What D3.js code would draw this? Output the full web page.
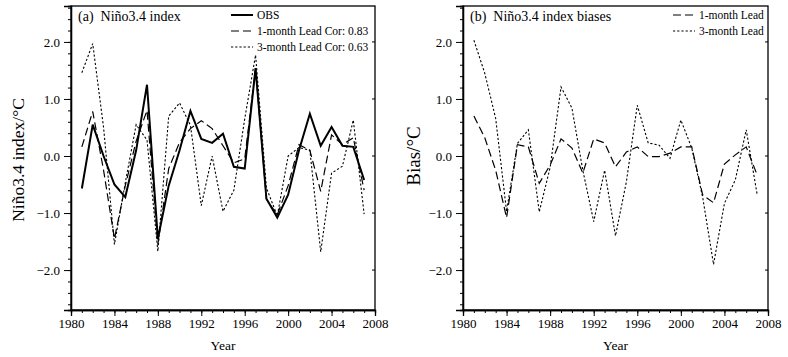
<!DOCTYPE html>
<html><head><meta charset="utf-8">
<script src="https://cdn.jsdelivr.net/npm/d3@7/dist/d3.min.js"></script>
<style>body{margin:0;background:#fff}svg{display:block}svg text{font-family:"Liberation Serif","Times New Roman",serif !important;fill:#000}</style>
</head><body>
<svg id="c" width="788" height="357"></svg>
<script>
const years = d3.range(1981, 2008);
const obs  = [-0.57,0.55,0.0,-0.5,-0.72,0.1,1.25,-1.45,-0.52,0.1,0.79,0.3,0.23,0.39,-0.19,-0.22,1.54,-0.75,-1.08,-0.68,0.1,0.74,0.18,0.51,0.18,0.16,-0.42];
const lead1 = [0.16,0.78,-0.25,-1.45,-0.52,0.26,0.8,-1.55,-0.22,0.24,0.48,0.62,0.48,0.18,-0.12,-0.05,1.53,-0.76,-1.03,-0.52,0.2,0.1,-0.62,0.37,0.2,0.32,-0.6];
const lead3 = [1.46,1.97,0.5,-1.55,-0.47,0.55,0.28,-1.67,0.7,0.93,0.54,-0.87,0.0,-0.97,-0.6,0.65,1.77,-0.56,-1.05,0.0,0.15,0.1,-1.68,-0.3,-0.18,0.63,-1.02];
const bias1 = [0.7,0.32,-0.25,-1.08,0.2,0.16,-0.48,-0.16,0.3,0.14,-0.3,0.3,0.23,-0.19,0.07,0.16,-0.01,-0.01,0.05,0.16,0.16,-0.68,-0.82,-0.14,0.02,0.16,-0.33];
const bias3 = [2.03,1.45,0.66,-0.97,0.22,0.46,-0.98,-0.2,1.21,0.84,-0.25,-1.15,-0.25,-1.4,-0.45,0.89,0.23,0.19,-0.04,0.63,0.14,-0.72,-1.9,-0.83,-0.42,0.46,-0.67];
const xMajor = [1980,1984,1988,1992,1996,2000,2004,2008];
const yMajor = [-2,-1,0,1,2];
const yTickLabels = ["\u22122.0","\u22121.0","0.0","1.0","2.0"];
const legendA = ["OBS","1-month Lead Cor: 0.83","3-month Lead Cor: 0.63"];
const legendB = ["1-month Lead","3-month Lead"];

const FONT = "'Liberation Serif','Times New Roman',serif";
const svg = d3.select("#c");
const styles = {
  obs:{w:2,dash:null},
  l1:{w:1.2,dash:"8,4"},
  l3:{w:1.1,dash:"2.2,2"}
};

function panel(x0,x1,title,ylabel,ylabelX,ylabelY,ylabelSize,series,legend,legX){
  const x = d3.scaleLinear().domain([1980,2008]).range([x0,x1]);
  const y = d3.scaleLinear().domain([-2.7,2.63]).range([310,6]);
  const g = svg.append("g");
  g.append("rect").attr("x",x0).attr("y",6).attr("width",x1-x0).attr("height",304)
   .attr("fill","none").attr("stroke","#000").attr("stroke-width",1.3);
  const xa = g.append("g").attr("transform","translate(0,310)");
  xa.call(d3.axisBottom(x).tickValues(d3.range(1980,2009)).tickSize(3).tickFormat(""));
  xa.append("g").call(d3.axisBottom(x).tickValues(xMajor).tickSize(6).tickFormat(d3.format("d")).tickPadding(3));
  xa.selectAll(".domain").attr("stroke","#000").attr("stroke-width",1.3);
  const ya = g.append("g").attr("transform",`translate(${x0},0)`);
  ya.call(d3.axisLeft(y).tickValues(d3.range(-26,27,2).map(v=>v/10)).tickSize(3).tickFormat(""));
  ya.append("g").call(d3.axisLeft(y).tickValues(yMajor).tickSize(7).tickPadding(4).tickFormat((d,i)=>yTickLabels[i]));
  ya.selectAll(".domain").attr("stroke","#000").attr("stroke-width",1.3);
  g.selectAll("g text").attr("font-size",13).attr("font-family",FONT).style("font-family",FONT);
  g.selectAll(".rt").data(yMajor).enter().append("line")
   .attr("x1",x1).attr("x2",x1-3).attr("y1",d=>y(d)).attr("y2",d=>y(d)).attr("stroke","#000");
  g.append("text").attr("x",(x0+x1)/2).attr("y",350).attr("text-anchor","middle").attr("font-size",13.5).text("Year");
  g.append("text").attr("transform",`translate(${ylabelX},${ylabelY}) rotate(-90)`).attr("text-anchor","middle")
   .attr("font-size",ylabelSize).text(ylabel);
  g.append("text").attr("x",x0+7).attr("y",21).attr("font-size",14).attr("xml:space","preserve").text(title);
  const line = d3.line().x((d,i)=>x(years[i])).y(d=>y(d));
  series.forEach(s=>{
    g.append("path").datum(s.data).attr("d",line).attr("fill","none").attr("stroke","#000")
     .attr("stroke-width",styles[s.st].w).attr("stroke-dasharray",styles[s.st].dash).attr("stroke-linejoin","miter");
  });
  legend.forEach((t,i)=>{
    const ly = 15 + i*16;
    const st = styles[series[i].st];
    g.append("line").attr("x1",legX).attr("x2",legX+22).attr("y1",ly).attr("y2",ly)
     .attr("stroke","#000").attr("stroke-width",st.w).attr("stroke-dasharray",st.dash);
    g.append("text").attr("x",legX+26).attr("y",ly+4).attr("font-size",11.5).text(t);
  });
}

panel(71,375,"(a)  Niño3.4 index","Niño3.4 index/°C",24,160,17.5,
  [{data:obs,st:"obs"},{data:lead1,st:"l1"},{data:lead3,st:"l3"}],legendA,231);
panel(463,768,"(b)  Niño3.4 index biases","Bias/°C",420,156,19,
  [{data:bias1,st:"l1"},{data:bias3,st:"l3"}],legendB,673);
</script>
</body></html>
